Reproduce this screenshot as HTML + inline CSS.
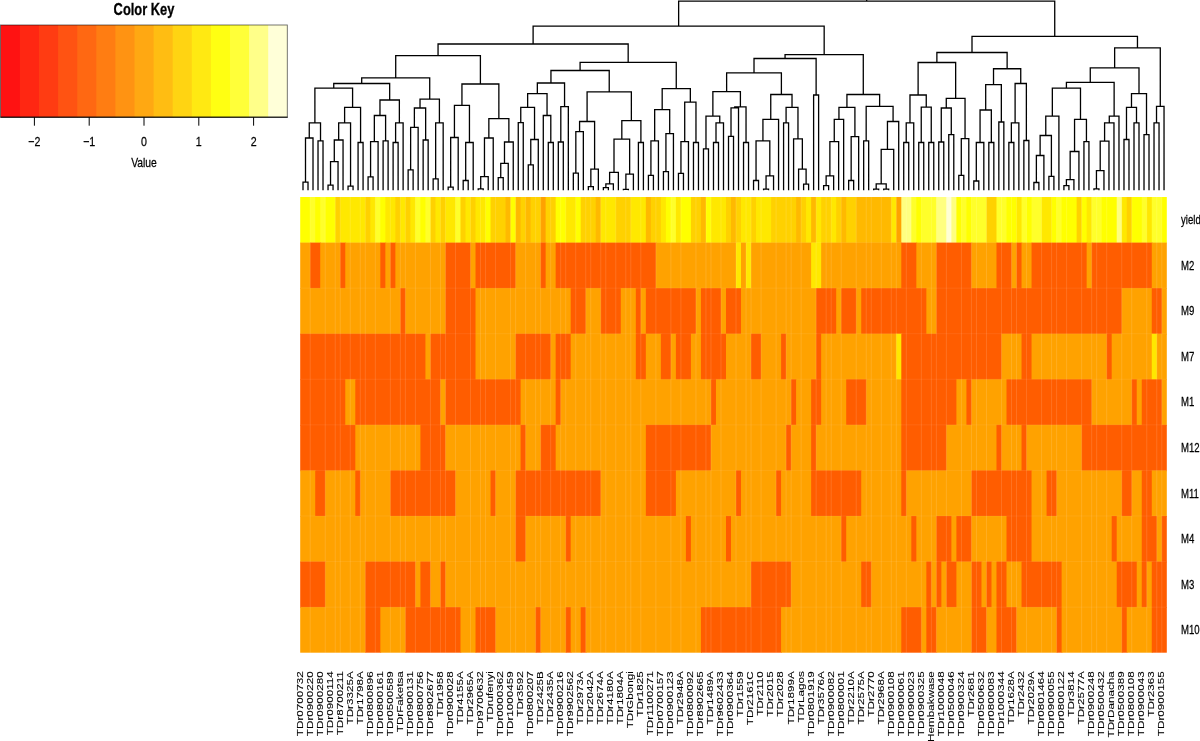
<!DOCTYPE html>
<html><head><meta charset="utf-8"><title>Heatmap</title>
<style>html,body{margin:0;padding:0;background:#fff}body{width:1200px;height:741px;overflow:hidden}</style></head>
<body>
<svg width="1200" height="741" viewBox="0 0 1200 741" style="display:block;font-family:'Liberation Sans',sans-serif">
<rect width="1200" height="741" fill="#fff"/>
<g>
<rect x="300.20" y="197.00" width="10.82" height="46.37" fill="#FFFF00"/>
<rect x="310.22" y="197.00" width="5.81" height="46.37" fill="#FFFF2A"/>
<rect x="315.23" y="197.00" width="5.81" height="46.37" fill="#FFFF00"/>
<rect x="320.24" y="197.00" width="5.81" height="46.37" fill="#FFFF2A"/>
<rect x="325.25" y="197.00" width="10.82" height="46.37" fill="#FFFF00"/>
<rect x="335.26" y="197.00" width="5.81" height="46.37" fill="#FFD100"/>
<rect x="340.27" y="197.00" width="25.85" height="46.37" fill="#FFE800"/>
<rect x="365.32" y="197.00" width="5.81" height="46.37" fill="#FFD100"/>
<rect x="370.33" y="197.00" width="5.81" height="46.37" fill="#FFE800"/>
<rect x="375.34" y="197.00" width="5.81" height="46.37" fill="#FFFF2A"/>
<rect x="380.35" y="197.00" width="5.81" height="46.37" fill="#FFFF00"/>
<rect x="385.36" y="197.00" width="10.82" height="46.37" fill="#FFE800"/>
<rect x="395.38" y="197.00" width="5.81" height="46.37" fill="#FFD100"/>
<rect x="400.38" y="197.00" width="5.81" height="46.37" fill="#FFE800"/>
<rect x="405.39" y="197.00" width="5.81" height="46.37" fill="#FFD100"/>
<rect x="410.40" y="197.00" width="5.81" height="46.37" fill="#FFE800"/>
<rect x="415.41" y="197.00" width="5.81" height="46.37" fill="#FFFF2A"/>
<rect x="420.42" y="197.00" width="5.81" height="46.37" fill="#FFFF00"/>
<rect x="425.43" y="197.00" width="5.81" height="46.37" fill="#FFFF2A"/>
<rect x="430.44" y="197.00" width="5.81" height="46.37" fill="#FFD100"/>
<rect x="435.45" y="197.00" width="5.81" height="46.37" fill="#FFE800"/>
<rect x="440.46" y="197.00" width="5.81" height="46.37" fill="#FFD100"/>
<rect x="445.47" y="197.00" width="10.82" height="46.37" fill="#FFE800"/>
<rect x="455.49" y="197.00" width="5.81" height="46.37" fill="#FFFF2A"/>
<rect x="460.50" y="197.00" width="5.81" height="46.37" fill="#FFD100"/>
<rect x="465.51" y="197.00" width="5.81" height="46.37" fill="#FFE800"/>
<rect x="470.51" y="197.00" width="5.81" height="46.37" fill="#FFD100"/>
<rect x="475.52" y="197.00" width="10.82" height="46.37" fill="#FFE800"/>
<rect x="485.54" y="197.00" width="5.81" height="46.37" fill="#FFFF00"/>
<rect x="490.55" y="197.00" width="15.83" height="46.37" fill="#FFD100"/>
<rect x="505.58" y="197.00" width="5.81" height="46.37" fill="#FFB900"/>
<rect x="510.59" y="197.00" width="5.81" height="46.37" fill="#FFFF00"/>
<rect x="515.60" y="197.00" width="5.81" height="46.37" fill="#FFB900"/>
<rect x="520.61" y="197.00" width="5.81" height="46.37" fill="#FFD100"/>
<rect x="525.62" y="197.00" width="5.81" height="46.37" fill="#FFB900"/>
<rect x="530.63" y="197.00" width="10.82" height="46.37" fill="#FFD100"/>
<rect x="540.64" y="197.00" width="5.81" height="46.37" fill="#FFA200"/>
<rect x="545.65" y="197.00" width="10.82" height="46.37" fill="#FFD100"/>
<rect x="555.67" y="197.00" width="10.82" height="46.37" fill="#FFFF00"/>
<rect x="565.69" y="197.00" width="10.82" height="46.37" fill="#FFE800"/>
<rect x="575.71" y="197.00" width="5.81" height="46.37" fill="#FFFF00"/>
<rect x="580.72" y="197.00" width="15.83" height="46.37" fill="#FFD100"/>
<rect x="595.75" y="197.00" width="5.81" height="46.37" fill="#FFB900"/>
<rect x="600.75" y="197.00" width="15.83" height="46.37" fill="#FFE800"/>
<rect x="615.78" y="197.00" width="15.83" height="46.37" fill="#FFD100"/>
<rect x="630.81" y="197.00" width="15.83" height="46.37" fill="#FFE800"/>
<rect x="645.84" y="197.00" width="5.81" height="46.37" fill="#FFB900"/>
<rect x="650.85" y="197.00" width="10.82" height="46.37" fill="#FFD100"/>
<rect x="660.87" y="197.00" width="5.81" height="46.37" fill="#FFE800"/>
<rect x="665.88" y="197.00" width="5.81" height="46.37" fill="#FFFF00"/>
<rect x="670.88" y="197.00" width="5.81" height="46.37" fill="#FFFF2A"/>
<rect x="675.89" y="197.00" width="5.81" height="46.37" fill="#FFE800"/>
<rect x="680.90" y="197.00" width="10.82" height="46.37" fill="#FFFF00"/>
<rect x="690.92" y="197.00" width="10.82" height="46.37" fill="#FFD100"/>
<rect x="700.94" y="197.00" width="5.81" height="46.37" fill="#FFB900"/>
<rect x="705.95" y="197.00" width="5.81" height="46.37" fill="#FFFF00"/>
<rect x="710.96" y="197.00" width="15.83" height="46.37" fill="#FFE800"/>
<rect x="725.99" y="197.00" width="5.81" height="46.37" fill="#FFD100"/>
<rect x="731.00" y="197.00" width="5.81" height="46.37" fill="#FFB900"/>
<rect x="736.00" y="197.00" width="5.81" height="46.37" fill="#FFD100"/>
<rect x="741.01" y="197.00" width="10.82" height="46.37" fill="#FFE800"/>
<rect x="751.03" y="197.00" width="5.81" height="46.37" fill="#FFD100"/>
<rect x="756.04" y="197.00" width="15.83" height="46.37" fill="#FFE800"/>
<rect x="771.07" y="197.00" width="25.85" height="46.37" fill="#FFD100"/>
<rect x="796.12" y="197.00" width="5.81" height="46.37" fill="#FFB900"/>
<rect x="801.12" y="197.00" width="5.81" height="46.37" fill="#FFD100"/>
<rect x="806.13" y="197.00" width="5.81" height="46.37" fill="#FFE800"/>
<rect x="811.14" y="197.00" width="5.81" height="46.37" fill="#FFB900"/>
<rect x="816.15" y="197.00" width="5.81" height="46.37" fill="#FFE800"/>
<rect x="821.16" y="197.00" width="10.82" height="46.37" fill="#FFD100"/>
<rect x="831.18" y="197.00" width="5.81" height="46.37" fill="#FFE800"/>
<rect x="836.19" y="197.00" width="5.81" height="46.37" fill="#FFD100"/>
<rect x="841.20" y="197.00" width="5.81" height="46.37" fill="#FFB900"/>
<rect x="846.21" y="197.00" width="10.82" height="46.37" fill="#FFD100"/>
<rect x="856.23" y="197.00" width="35.86" height="46.37" fill="#FFB900"/>
<rect x="891.29" y="197.00" width="5.81" height="46.37" fill="#FFE800"/>
<rect x="896.30" y="197.00" width="5.81" height="46.37" fill="#FFA200"/>
<rect x="901.31" y="197.00" width="10.82" height="46.37" fill="#FFFF80"/>
<rect x="911.33" y="197.00" width="5.81" height="46.37" fill="#FFFF2A"/>
<rect x="916.34" y="197.00" width="5.81" height="46.37" fill="#FFFF00"/>
<rect x="921.35" y="197.00" width="15.83" height="46.37" fill="#FFFF2A"/>
<rect x="936.37" y="197.00" width="10.82" height="46.37" fill="#FFFF80"/>
<rect x="946.39" y="197.00" width="5.81" height="46.37" fill="#FFFFD5"/>
<rect x="951.40" y="197.00" width="5.81" height="46.37" fill="#FFFF80"/>
<rect x="956.41" y="197.00" width="5.81" height="46.37" fill="#FFFF00"/>
<rect x="961.42" y="197.00" width="5.81" height="46.37" fill="#FFFF2A"/>
<rect x="966.43" y="197.00" width="5.81" height="46.37" fill="#FFFF00"/>
<rect x="971.44" y="197.00" width="15.83" height="46.37" fill="#FFFF2A"/>
<rect x="986.47" y="197.00" width="10.82" height="46.37" fill="#FFD100"/>
<rect x="996.49" y="197.00" width="10.82" height="46.37" fill="#FFFF2A"/>
<rect x="1006.50" y="197.00" width="10.82" height="46.37" fill="#FFFF00"/>
<rect x="1016.52" y="197.00" width="5.81" height="46.37" fill="#FFE800"/>
<rect x="1021.53" y="197.00" width="5.81" height="46.37" fill="#FFFF2A"/>
<rect x="1026.54" y="197.00" width="5.81" height="46.37" fill="#FFFF00"/>
<rect x="1031.55" y="197.00" width="10.82" height="46.37" fill="#FFFF2A"/>
<rect x="1041.57" y="197.00" width="10.82" height="46.37" fill="#FFE800"/>
<rect x="1051.59" y="197.00" width="5.81" height="46.37" fill="#FFFF00"/>
<rect x="1056.60" y="197.00" width="5.81" height="46.37" fill="#FFFF2A"/>
<rect x="1061.61" y="197.00" width="15.83" height="46.37" fill="#FFFF00"/>
<rect x="1076.63" y="197.00" width="5.81" height="46.37" fill="#FFD100"/>
<rect x="1081.64" y="197.00" width="5.81" height="46.37" fill="#FFFF00"/>
<rect x="1086.65" y="197.00" width="5.81" height="46.37" fill="#FFE800"/>
<rect x="1091.66" y="197.00" width="10.82" height="46.37" fill="#FFFF2A"/>
<rect x="1101.68" y="197.00" width="15.83" height="46.37" fill="#FFFF00"/>
<rect x="1116.71" y="197.00" width="5.81" height="46.37" fill="#FFFF80"/>
<rect x="1121.72" y="197.00" width="5.81" height="46.37" fill="#FFE800"/>
<rect x="1126.73" y="197.00" width="5.81" height="46.37" fill="#FFD100"/>
<rect x="1131.74" y="197.00" width="10.82" height="46.37" fill="#FFFF00"/>
<rect x="1141.75" y="197.00" width="5.81" height="46.37" fill="#FFFF2A"/>
<rect x="1146.76" y="197.00" width="5.81" height="46.37" fill="#FFE800"/>
<rect x="1151.77" y="197.00" width="10.82" height="46.37" fill="#FFFF2A"/>
<rect x="1161.79" y="197.00" width="5.01" height="46.37" fill="#FFFF00"/>
<rect x="300.20" y="242.57" width="10.82" height="46.37" fill="#FFA200"/>
<rect x="310.22" y="242.57" width="10.82" height="46.37" fill="#FF5D00"/>
<rect x="320.24" y="242.57" width="20.84" height="46.37" fill="#FFA200"/>
<rect x="340.27" y="242.57" width="5.81" height="46.37" fill="#FF5D00"/>
<rect x="345.28" y="242.57" width="35.86" height="46.37" fill="#FFA200"/>
<rect x="380.35" y="242.57" width="5.81" height="46.37" fill="#FF5D00"/>
<rect x="385.36" y="242.57" width="5.81" height="46.37" fill="#FFA200"/>
<rect x="390.37" y="242.57" width="5.81" height="46.37" fill="#FF5D00"/>
<rect x="395.38" y="242.57" width="50.89" height="46.37" fill="#FFA200"/>
<rect x="445.47" y="242.57" width="25.85" height="46.37" fill="#FF5D00"/>
<rect x="470.51" y="242.57" width="5.81" height="46.37" fill="#FFA200"/>
<rect x="475.52" y="242.57" width="40.87" height="46.37" fill="#FF5D00"/>
<rect x="515.60" y="242.57" width="25.85" height="46.37" fill="#FFA200"/>
<rect x="540.64" y="242.57" width="5.81" height="46.37" fill="#FF5D00"/>
<rect x="545.65" y="242.57" width="10.82" height="46.37" fill="#FFA200"/>
<rect x="555.67" y="242.57" width="100.98" height="46.37" fill="#FF5D00"/>
<rect x="655.86" y="242.57" width="80.95" height="46.37" fill="#FFA200"/>
<rect x="736.00" y="242.57" width="5.81" height="46.37" fill="#FFE800"/>
<rect x="741.01" y="242.57" width="5.81" height="46.37" fill="#FFA200"/>
<rect x="746.02" y="242.57" width="5.81" height="46.37" fill="#FFE800"/>
<rect x="751.03" y="242.57" width="60.91" height="46.37" fill="#FFA200"/>
<rect x="811.14" y="242.57" width="10.82" height="46.37" fill="#FFE800"/>
<rect x="821.16" y="242.57" width="80.95" height="46.37" fill="#FFA200"/>
<rect x="901.31" y="242.57" width="15.83" height="46.37" fill="#FF5D00"/>
<rect x="916.34" y="242.57" width="20.84" height="46.37" fill="#FFA200"/>
<rect x="936.37" y="242.57" width="35.86" height="46.37" fill="#FF5D00"/>
<rect x="971.44" y="242.57" width="25.85" height="46.37" fill="#FFA200"/>
<rect x="996.49" y="242.57" width="15.83" height="46.37" fill="#FF5D00"/>
<rect x="1011.51" y="242.57" width="5.81" height="46.37" fill="#FFA200"/>
<rect x="1016.52" y="242.57" width="5.81" height="46.37" fill="#FF5D00"/>
<rect x="1021.53" y="242.57" width="10.82" height="46.37" fill="#FFA200"/>
<rect x="1031.55" y="242.57" width="55.90" height="46.37" fill="#FF5D00"/>
<rect x="1086.65" y="242.57" width="5.81" height="46.37" fill="#FFA200"/>
<rect x="1091.66" y="242.57" width="60.91" height="46.37" fill="#FF5D00"/>
<rect x="1151.77" y="242.57" width="15.03" height="46.37" fill="#FFA200"/>
<rect x="300.20" y="288.14" width="100.98" height="46.37" fill="#FFA200"/>
<rect x="400.38" y="288.14" width="5.81" height="46.37" fill="#FF5D00"/>
<rect x="405.39" y="288.14" width="40.87" height="46.37" fill="#FFA200"/>
<rect x="445.47" y="288.14" width="30.86" height="46.37" fill="#FF5D00"/>
<rect x="475.52" y="288.14" width="95.98" height="46.37" fill="#FFA200"/>
<rect x="570.70" y="288.14" width="15.83" height="46.37" fill="#FF5D00"/>
<rect x="585.73" y="288.14" width="15.83" height="46.37" fill="#FFA200"/>
<rect x="600.75" y="288.14" width="20.84" height="46.37" fill="#FF5D00"/>
<rect x="620.79" y="288.14" width="15.83" height="46.37" fill="#FFA200"/>
<rect x="635.82" y="288.14" width="5.81" height="46.37" fill="#FF5D00"/>
<rect x="640.83" y="288.14" width="5.81" height="46.37" fill="#FFA200"/>
<rect x="645.84" y="288.14" width="50.89" height="46.37" fill="#FF5D00"/>
<rect x="695.93" y="288.14" width="5.81" height="46.37" fill="#FFA200"/>
<rect x="700.94" y="288.14" width="20.84" height="46.37" fill="#FF5D00"/>
<rect x="720.98" y="288.14" width="5.81" height="46.37" fill="#FFA200"/>
<rect x="725.99" y="288.14" width="15.83" height="46.37" fill="#FF5D00"/>
<rect x="741.01" y="288.14" width="75.94" height="46.37" fill="#FFA200"/>
<rect x="816.15" y="288.14" width="20.84" height="46.37" fill="#FF5D00"/>
<rect x="836.19" y="288.14" width="5.81" height="46.37" fill="#FFA200"/>
<rect x="841.20" y="288.14" width="15.83" height="46.37" fill="#FF5D00"/>
<rect x="856.23" y="288.14" width="5.81" height="46.37" fill="#FFA200"/>
<rect x="861.24" y="288.14" width="65.92" height="46.37" fill="#FF5D00"/>
<rect x="926.36" y="288.14" width="10.82" height="46.37" fill="#FFA200"/>
<rect x="936.37" y="288.14" width="186.14" height="46.37" fill="#FF5D00"/>
<rect x="1121.72" y="288.14" width="30.86" height="46.37" fill="#FFA200"/>
<rect x="1151.77" y="288.14" width="10.82" height="46.37" fill="#FF5D00"/>
<rect x="1161.79" y="288.14" width="5.01" height="46.37" fill="#FFA200"/>
<rect x="300.20" y="333.71" width="126.03" height="46.37" fill="#FF5D00"/>
<rect x="425.43" y="333.71" width="5.81" height="46.37" fill="#FFA200"/>
<rect x="430.44" y="333.71" width="45.88" height="46.37" fill="#FF5D00"/>
<rect x="475.52" y="333.71" width="40.87" height="46.37" fill="#FFA200"/>
<rect x="515.60" y="333.71" width="35.86" height="46.37" fill="#FF5D00"/>
<rect x="550.66" y="333.71" width="5.81" height="46.37" fill="#FFA200"/>
<rect x="555.67" y="333.71" width="15.83" height="46.37" fill="#FF5D00"/>
<rect x="570.70" y="333.71" width="65.92" height="46.37" fill="#FFA200"/>
<rect x="635.82" y="333.71" width="10.82" height="46.37" fill="#FF5D00"/>
<rect x="645.84" y="333.71" width="15.83" height="46.37" fill="#FFA200"/>
<rect x="660.87" y="333.71" width="10.82" height="46.37" fill="#FF5D00"/>
<rect x="670.88" y="333.71" width="5.81" height="46.37" fill="#FFA200"/>
<rect x="675.89" y="333.71" width="15.83" height="46.37" fill="#FF5D00"/>
<rect x="690.92" y="333.71" width="10.82" height="46.37" fill="#FFA200"/>
<rect x="700.94" y="333.71" width="25.85" height="46.37" fill="#FF5D00"/>
<rect x="725.99" y="333.71" width="25.85" height="46.37" fill="#FFA200"/>
<rect x="751.03" y="333.71" width="10.82" height="46.37" fill="#FF5D00"/>
<rect x="761.05" y="333.71" width="20.84" height="46.37" fill="#FFA200"/>
<rect x="781.09" y="333.71" width="5.81" height="46.37" fill="#FF5D00"/>
<rect x="786.10" y="333.71" width="30.86" height="46.37" fill="#FFA200"/>
<rect x="816.15" y="333.71" width="5.81" height="46.37" fill="#FF5D00"/>
<rect x="821.16" y="333.71" width="75.94" height="46.37" fill="#FFA200"/>
<rect x="896.30" y="333.71" width="5.81" height="46.37" fill="#FFE800"/>
<rect x="901.31" y="333.71" width="100.98" height="46.37" fill="#FF5D00"/>
<rect x="1001.49" y="333.71" width="20.84" height="46.37" fill="#FFA200"/>
<rect x="1021.53" y="333.71" width="10.82" height="46.37" fill="#FF5D00"/>
<rect x="1031.55" y="333.71" width="75.94" height="46.37" fill="#FFA200"/>
<rect x="1106.69" y="333.71" width="5.81" height="46.37" fill="#FF5D00"/>
<rect x="1111.70" y="333.71" width="40.87" height="46.37" fill="#FFA200"/>
<rect x="1151.77" y="333.71" width="5.81" height="46.37" fill="#FFE800"/>
<rect x="1156.78" y="333.71" width="10.02" height="46.37" fill="#FFA200"/>
<rect x="300.20" y="379.28" width="45.88" height="46.37" fill="#FF5D00"/>
<rect x="345.28" y="379.28" width="10.82" height="46.37" fill="#FFA200"/>
<rect x="355.30" y="379.28" width="85.96" height="46.37" fill="#FF5D00"/>
<rect x="440.46" y="379.28" width="5.81" height="46.37" fill="#FFA200"/>
<rect x="445.47" y="379.28" width="75.94" height="46.37" fill="#FF5D00"/>
<rect x="520.61" y="379.28" width="35.86" height="46.37" fill="#FFA200"/>
<rect x="555.67" y="379.28" width="5.81" height="46.37" fill="#FF5D00"/>
<rect x="560.68" y="379.28" width="151.08" height="46.37" fill="#FFA200"/>
<rect x="710.96" y="379.28" width="5.81" height="46.37" fill="#FF5D00"/>
<rect x="715.97" y="379.28" width="75.94" height="46.37" fill="#FFA200"/>
<rect x="791.11" y="379.28" width="5.81" height="46.37" fill="#FF5D00"/>
<rect x="796.12" y="379.28" width="15.83" height="46.37" fill="#FFA200"/>
<rect x="811.14" y="379.28" width="10.82" height="46.37" fill="#FF5D00"/>
<rect x="821.16" y="379.28" width="25.85" height="46.37" fill="#FFA200"/>
<rect x="846.21" y="379.28" width="20.84" height="46.37" fill="#FF5D00"/>
<rect x="866.25" y="379.28" width="35.86" height="46.37" fill="#FFA200"/>
<rect x="901.31" y="379.28" width="55.90" height="46.37" fill="#FF5D00"/>
<rect x="956.41" y="379.28" width="10.82" height="46.37" fill="#FFA200"/>
<rect x="966.43" y="379.28" width="5.81" height="46.37" fill="#FF5D00"/>
<rect x="971.44" y="379.28" width="35.86" height="46.37" fill="#FFA200"/>
<rect x="1006.50" y="379.28" width="85.96" height="46.37" fill="#FF5D00"/>
<rect x="1091.66" y="379.28" width="40.87" height="46.37" fill="#FFA200"/>
<rect x="1131.74" y="379.28" width="5.81" height="46.37" fill="#FF5D00"/>
<rect x="1136.74" y="379.28" width="5.81" height="46.37" fill="#FFA200"/>
<rect x="1141.75" y="379.28" width="20.84" height="46.37" fill="#FF5D00"/>
<rect x="1161.79" y="379.28" width="5.01" height="46.37" fill="#FFA200"/>
<rect x="300.20" y="424.85" width="55.90" height="46.37" fill="#FF5D00"/>
<rect x="355.30" y="424.85" width="65.92" height="46.37" fill="#FFA200"/>
<rect x="420.42" y="424.85" width="25.85" height="46.37" fill="#FF5D00"/>
<rect x="445.47" y="424.85" width="75.94" height="46.37" fill="#FFA200"/>
<rect x="520.61" y="424.85" width="5.81" height="46.37" fill="#FF5D00"/>
<rect x="525.62" y="424.85" width="15.83" height="46.37" fill="#FFA200"/>
<rect x="540.64" y="424.85" width="15.83" height="46.37" fill="#FF5D00"/>
<rect x="555.67" y="424.85" width="90.97" height="46.37" fill="#FFA200"/>
<rect x="645.84" y="424.85" width="65.92" height="46.37" fill="#FF5D00"/>
<rect x="710.96" y="424.85" width="75.94" height="46.37" fill="#FFA200"/>
<rect x="786.10" y="424.85" width="5.81" height="46.37" fill="#FF5D00"/>
<rect x="791.11" y="424.85" width="20.84" height="46.37" fill="#FFA200"/>
<rect x="811.14" y="424.85" width="5.81" height="46.37" fill="#FF5D00"/>
<rect x="816.15" y="424.85" width="85.96" height="46.37" fill="#FFA200"/>
<rect x="901.31" y="424.85" width="45.88" height="46.37" fill="#FF5D00"/>
<rect x="946.39" y="424.85" width="50.89" height="46.37" fill="#FFA200"/>
<rect x="996.49" y="424.85" width="5.81" height="46.37" fill="#FF5D00"/>
<rect x="1001.49" y="424.85" width="20.84" height="46.37" fill="#FFA200"/>
<rect x="1021.53" y="424.85" width="5.81" height="46.37" fill="#FF5D00"/>
<rect x="1026.54" y="424.85" width="55.90" height="46.37" fill="#FFA200"/>
<rect x="1081.64" y="424.85" width="85.16" height="46.37" fill="#FF5D00"/>
<rect x="300.20" y="470.42" width="15.83" height="46.37" fill="#FFA200"/>
<rect x="315.23" y="470.42" width="10.82" height="46.37" fill="#FF5D00"/>
<rect x="325.25" y="470.42" width="30.86" height="46.37" fill="#FFA200"/>
<rect x="355.30" y="470.42" width="5.81" height="46.37" fill="#FF5D00"/>
<rect x="360.31" y="470.42" width="30.86" height="46.37" fill="#FFA200"/>
<rect x="390.37" y="470.42" width="65.92" height="46.37" fill="#FF5D00"/>
<rect x="455.49" y="470.42" width="35.86" height="46.37" fill="#FFA200"/>
<rect x="490.55" y="470.42" width="5.81" height="46.37" fill="#FF5D00"/>
<rect x="495.56" y="470.42" width="20.84" height="46.37" fill="#FFA200"/>
<rect x="515.60" y="470.42" width="85.96" height="46.37" fill="#FF5D00"/>
<rect x="600.75" y="470.42" width="45.88" height="46.37" fill="#FFA200"/>
<rect x="645.84" y="470.42" width="30.86" height="46.37" fill="#FF5D00"/>
<rect x="675.89" y="470.42" width="60.91" height="46.37" fill="#FFA200"/>
<rect x="736.00" y="470.42" width="5.81" height="46.37" fill="#FF5D00"/>
<rect x="741.01" y="470.42" width="35.86" height="46.37" fill="#FFA200"/>
<rect x="776.08" y="470.42" width="5.81" height="46.37" fill="#FF5D00"/>
<rect x="781.09" y="470.42" width="30.86" height="46.37" fill="#FFA200"/>
<rect x="811.14" y="470.42" width="50.89" height="46.37" fill="#FF5D00"/>
<rect x="861.24" y="470.42" width="40.87" height="46.37" fill="#FFA200"/>
<rect x="901.31" y="470.42" width="5.81" height="46.37" fill="#FF5D00"/>
<rect x="906.32" y="470.42" width="65.92" height="46.37" fill="#FFA200"/>
<rect x="971.44" y="470.42" width="60.91" height="46.37" fill="#FF5D00"/>
<rect x="1031.55" y="470.42" width="15.83" height="46.37" fill="#FFA200"/>
<rect x="1046.58" y="470.42" width="10.82" height="46.37" fill="#FF5D00"/>
<rect x="1056.60" y="470.42" width="65.92" height="46.37" fill="#FFA200"/>
<rect x="1121.72" y="470.42" width="10.82" height="46.37" fill="#FF5D00"/>
<rect x="1131.74" y="470.42" width="10.82" height="46.37" fill="#FFA200"/>
<rect x="1141.75" y="470.42" width="10.82" height="46.37" fill="#FF5D00"/>
<rect x="1151.77" y="470.42" width="15.03" height="46.37" fill="#FFA200"/>
<rect x="300.20" y="515.99" width="216.20" height="46.37" fill="#FFA200"/>
<rect x="515.60" y="515.99" width="10.82" height="46.37" fill="#FF5D00"/>
<rect x="525.62" y="515.99" width="40.87" height="46.37" fill="#FFA200"/>
<rect x="565.69" y="515.99" width="5.81" height="46.37" fill="#FF5D00"/>
<rect x="570.70" y="515.99" width="116.01" height="46.37" fill="#FFA200"/>
<rect x="685.91" y="515.99" width="5.81" height="46.37" fill="#FF5D00"/>
<rect x="690.92" y="515.99" width="35.86" height="46.37" fill="#FFA200"/>
<rect x="725.99" y="515.99" width="5.81" height="46.37" fill="#FF5D00"/>
<rect x="731.00" y="515.99" width="111.00" height="46.37" fill="#FFA200"/>
<rect x="841.20" y="515.99" width="5.81" height="46.37" fill="#FF5D00"/>
<rect x="846.21" y="515.99" width="65.92" height="46.37" fill="#FFA200"/>
<rect x="911.33" y="515.99" width="5.81" height="46.37" fill="#FF5D00"/>
<rect x="916.34" y="515.99" width="20.84" height="46.37" fill="#FFA200"/>
<rect x="936.37" y="515.99" width="15.83" height="46.37" fill="#FF5D00"/>
<rect x="951.40" y="515.99" width="5.81" height="46.37" fill="#FFA200"/>
<rect x="956.41" y="515.99" width="15.83" height="46.37" fill="#FF5D00"/>
<rect x="971.44" y="515.99" width="35.86" height="46.37" fill="#FFA200"/>
<rect x="1006.50" y="515.99" width="25.85" height="46.37" fill="#FF5D00"/>
<rect x="1031.55" y="515.99" width="80.95" height="46.37" fill="#FFA200"/>
<rect x="1111.70" y="515.99" width="5.81" height="46.37" fill="#FF5D00"/>
<rect x="1116.71" y="515.99" width="25.85" height="46.37" fill="#FFA200"/>
<rect x="1141.75" y="515.99" width="15.83" height="46.37" fill="#FF5D00"/>
<rect x="1156.78" y="515.99" width="5.81" height="46.37" fill="#FFA200"/>
<rect x="1161.79" y="515.99" width="5.01" height="46.37" fill="#FF5D00"/>
<rect x="300.20" y="561.56" width="25.85" height="46.37" fill="#FF5D00"/>
<rect x="325.25" y="561.56" width="40.87" height="46.37" fill="#FFA200"/>
<rect x="365.32" y="561.56" width="50.89" height="46.37" fill="#FF5D00"/>
<rect x="415.41" y="561.56" width="5.81" height="46.37" fill="#FFA200"/>
<rect x="420.42" y="561.56" width="10.82" height="46.37" fill="#FF5D00"/>
<rect x="430.44" y="561.56" width="10.82" height="46.37" fill="#FFA200"/>
<rect x="440.46" y="561.56" width="5.81" height="46.37" fill="#FF5D00"/>
<rect x="445.47" y="561.56" width="306.36" height="46.37" fill="#FFA200"/>
<rect x="751.03" y="561.56" width="40.87" height="46.37" fill="#FF5D00"/>
<rect x="791.11" y="561.56" width="70.93" height="46.37" fill="#FFA200"/>
<rect x="861.24" y="561.56" width="10.82" height="46.37" fill="#FF5D00"/>
<rect x="871.25" y="561.56" width="55.90" height="46.37" fill="#FFA200"/>
<rect x="926.36" y="561.56" width="5.81" height="46.37" fill="#FF5D00"/>
<rect x="931.37" y="561.56" width="5.81" height="46.37" fill="#FFA200"/>
<rect x="936.37" y="561.56" width="5.81" height="46.37" fill="#FF5D00"/>
<rect x="941.38" y="561.56" width="5.81" height="46.37" fill="#FFA200"/>
<rect x="946.39" y="561.56" width="10.82" height="46.37" fill="#FF5D00"/>
<rect x="956.41" y="561.56" width="15.83" height="46.37" fill="#FFA200"/>
<rect x="971.44" y="561.56" width="10.82" height="46.37" fill="#FF5D00"/>
<rect x="981.46" y="561.56" width="5.81" height="46.37" fill="#FFA200"/>
<rect x="986.47" y="561.56" width="5.81" height="46.37" fill="#FF5D00"/>
<rect x="991.48" y="561.56" width="5.81" height="46.37" fill="#FFA200"/>
<rect x="996.49" y="561.56" width="10.82" height="46.37" fill="#FF5D00"/>
<rect x="1006.50" y="561.56" width="15.83" height="46.37" fill="#FFA200"/>
<rect x="1021.53" y="561.56" width="40.87" height="46.37" fill="#FF5D00"/>
<rect x="1061.61" y="561.56" width="55.90" height="46.37" fill="#FFA200"/>
<rect x="1116.71" y="561.56" width="20.84" height="46.37" fill="#FF5D00"/>
<rect x="1136.74" y="561.56" width="5.81" height="46.37" fill="#FFA200"/>
<rect x="1141.75" y="561.56" width="5.81" height="46.37" fill="#FF5D00"/>
<rect x="1146.76" y="561.56" width="5.81" height="46.37" fill="#FFA200"/>
<rect x="1151.77" y="561.56" width="15.03" height="46.37" fill="#FF5D00"/>
<rect x="300.20" y="607.13" width="65.92" height="45.57" fill="#FFA200"/>
<rect x="365.32" y="607.13" width="15.83" height="45.57" fill="#FF5D00"/>
<rect x="380.35" y="607.13" width="25.85" height="45.57" fill="#FFA200"/>
<rect x="405.39" y="607.13" width="55.90" height="45.57" fill="#FF5D00"/>
<rect x="460.50" y="607.13" width="15.83" height="45.57" fill="#FFA200"/>
<rect x="475.52" y="607.13" width="20.84" height="45.57" fill="#FF5D00"/>
<rect x="495.56" y="607.13" width="40.87" height="45.57" fill="#FFA200"/>
<rect x="535.63" y="607.13" width="5.81" height="45.57" fill="#FF5D00"/>
<rect x="540.64" y="607.13" width="25.85" height="45.57" fill="#FFA200"/>
<rect x="565.69" y="607.13" width="5.81" height="45.57" fill="#FF5D00"/>
<rect x="570.70" y="607.13" width="10.82" height="45.57" fill="#FFA200"/>
<rect x="580.72" y="607.13" width="5.81" height="45.57" fill="#FF5D00"/>
<rect x="585.73" y="607.13" width="116.01" height="45.57" fill="#FFA200"/>
<rect x="700.94" y="607.13" width="80.95" height="45.57" fill="#FF5D00"/>
<rect x="781.09" y="607.13" width="121.02" height="45.57" fill="#FFA200"/>
<rect x="901.31" y="607.13" width="20.84" height="45.57" fill="#FF5D00"/>
<rect x="921.35" y="607.13" width="5.81" height="45.57" fill="#FFA200"/>
<rect x="926.36" y="607.13" width="10.82" height="45.57" fill="#FF5D00"/>
<rect x="936.37" y="607.13" width="35.86" height="45.57" fill="#FFA200"/>
<rect x="971.44" y="607.13" width="15.83" height="45.57" fill="#FF5D00"/>
<rect x="986.47" y="607.13" width="10.82" height="45.57" fill="#FFA200"/>
<rect x="996.49" y="607.13" width="20.84" height="45.57" fill="#FF5D00"/>
<rect x="1016.52" y="607.13" width="40.87" height="45.57" fill="#FFA200"/>
<rect x="1056.60" y="607.13" width="5.81" height="45.57" fill="#FF5D00"/>
<rect x="1061.61" y="607.13" width="60.91" height="45.57" fill="#FFA200"/>
<rect x="1121.72" y="607.13" width="5.81" height="45.57" fill="#FF5D00"/>
<rect x="1126.73" y="607.13" width="25.85" height="45.57" fill="#FFA200"/>
<rect x="1151.77" y="607.13" width="15.03" height="45.57" fill="#FF5D00"/>
</g>
<path d="M310.22 197.00V652.70M325.25 197.00V652.70M335.26 197.00V652.70M340.27 197.00V652.70M350.29 197.00V652.70M360.31 197.00V652.70M365.32 197.00V652.70M375.34 197.00V652.70M390.37 197.00V652.70M400.38 197.00V652.70M405.39 197.00V652.70M415.41 197.00V652.70M430.44 197.00V652.70M440.46 197.00V652.70M445.47 197.00V652.70M455.49 197.00V652.70M470.51 197.00V652.70M480.53 197.00V652.70M485.54 197.00V652.70M495.56 197.00V652.70M510.59 197.00V652.70M515.60 197.00V652.70M525.62 197.00V652.70M535.63 197.00V652.70M540.64 197.00V652.70M550.66 197.00V652.70M560.68 197.00V652.70M565.69 197.00V652.70M575.71 197.00V652.70M585.73 197.00V652.70M590.74 197.00V652.70M600.75 197.00V652.70M605.76 197.00V652.70M615.78 197.00V652.70M625.80 197.00V652.70M630.81 197.00V652.70M640.83 197.00V652.70M655.86 197.00V652.70M670.88 197.00V652.70M680.90 197.00V652.70M695.93 197.00V652.70M705.95 197.00V652.70M710.96 197.00V652.70M720.98 197.00V652.70M736.00 197.00V652.70M746.02 197.00V652.70M751.03 197.00V652.70M761.05 197.00V652.70M776.08 197.00V652.70M786.10 197.00V652.70M791.11 197.00V652.70M801.12 197.00V652.70M816.15 197.00V652.70M826.17 197.00V652.70M831.18 197.00V652.70M841.20 197.00V652.70M856.23 197.00V652.70M866.25 197.00V652.70M871.25 197.00V652.70M881.27 197.00V652.70M891.29 197.00V652.70M896.30 197.00V652.70M906.32 197.00V652.70M921.35 197.00V652.70M931.37 197.00V652.70M936.37 197.00V652.70M946.39 197.00V652.70M961.42 197.00V652.70M971.44 197.00V652.70M976.45 197.00V652.70M986.47 197.00V652.70M1001.49 197.00V652.70M1011.51 197.00V652.70M1016.52 197.00V652.70M1026.54 197.00V652.70M1041.57 197.00V652.70M1051.59 197.00V652.70M1056.60 197.00V652.70M1066.62 197.00V652.70M1081.64 197.00V652.70M1091.66 197.00V652.70M1096.67 197.00V652.70M1106.69 197.00V652.70M1121.72 197.00V652.70M1131.74 197.00V652.70M1146.76 197.00V652.70M1156.78 197.00V652.70M1161.79 197.00V652.70" stroke="#fff" stroke-opacity="0.22" stroke-width="0.6" fill="none"/>
<path d="M300.20 242.57H1166.80M300.20 288.14H1166.80M300.20 333.71H1166.80M300.20 379.28H1166.80M300.20 424.85H1166.80M300.20 470.42H1166.80M300.20 515.99H1166.80M300.20 561.56H1166.80M300.20 607.13H1166.80" stroke="#fff" stroke-opacity="0.12" stroke-width="0.6" fill="none"/>
<path d="M303.00 190.30V182.20H308.01V190.30M305.50 182.20V138.00H313.01V190.30M318.02 190.30V140.90H323.02V190.30M309.26 138.00V122.80H320.52V140.90M328.03 190.30V185.20H333.04V190.30M330.53 185.20V161.60H338.04V190.30M334.29 161.60V140.00H343.05V190.30M348.05 190.30V186.10H353.06V190.30M338.67 140.00V122.80H350.56V186.10M358.07 190.30V142.50H363.07V190.30M344.61 122.80V107.40H360.57V142.50M314.89 122.80V88.20H352.59V107.40M368.08 190.30V176.80H373.08V190.30M370.58 176.80V141.70H378.09V190.30M383.10 190.30V140.90H388.10V190.30M374.34 141.70V115.50H385.60V140.90M393.11 190.30V142.50H398.11V190.30M395.61 142.50V122.80H403.12V190.30M379.97 115.50V100.00H399.37V122.80M333.74 88.20V83.50H389.67V100.00M408.13 190.30V169.90H413.13V190.30M410.63 169.90V127.40H418.14V190.30M423.14 190.30V140.00H428.15V190.30M414.38 127.40V108.00H425.65V140.00M433.16 190.30V178.80H438.16V190.30M435.66 178.80V122.80H443.17V190.30M420.02 108.00V99.20H439.41V122.80M361.70 83.50V77.90H429.71V99.20M448.17 190.30V187.20H453.18V190.30M450.68 187.20V137.50H458.19V190.30M463.19 190.30V180.50H468.20V190.30M465.69 180.50V142.50H473.20V190.30M454.43 137.50V105.40H469.45V142.50M478.21 190.30V188.90H483.22V190.30M480.71 188.90V176.60H488.22V190.30M484.47 176.60V138.00H493.23V190.30M498.23 190.30V177.60H503.24V190.30M500.74 177.60V163.30H508.25V190.30M504.49 163.30V142.00H513.25V190.30M488.85 138.00V118.60H508.87V142.00M461.94 105.40V84.00H498.86V118.60M395.71 77.90V55.70H480.40V84.00M518.26 190.30V122.60H523.26V190.30M528.27 190.30V164.80H533.28V190.30M530.77 164.80V139.50H538.28V190.30M520.76 122.60V107.40H534.53V139.50M548.29 190.30V142.50H553.30V190.30M543.29 190.30V115.50H550.80V142.50M527.64 107.40V93.60H547.04V115.50M558.31 190.30V142.00H563.31V190.30M560.81 142.00V106.60H568.32V190.30M537.34 93.60V83.00H564.56V106.60M573.32 190.30V173.20H578.33V190.30M575.83 173.20V131.60H583.34V190.30M588.34 190.30V186.70H593.35V190.30M590.85 186.70V169.20H598.35V190.30M579.58 131.60V121.50H594.60V169.20M603.36 190.30V187.60H608.37V190.30M605.86 187.60V183.90H613.37V190.30M609.62 183.90V172.40H618.38V190.30M623.38 190.30V189.40H628.39V190.30M625.89 189.40V174.10H633.40V190.30M614.00 172.40V139.20H629.64V174.10M638.40 190.30V142.50H643.41V190.30M621.82 139.20V120.60H640.90V142.50M587.09 121.50V91.90H631.36V120.60M550.95 83.00V70.50H609.23V91.90M648.41 190.30V175.40H653.42V190.30M650.92 175.40V140.90H658.43V190.30M663.43 190.30V171.60H668.44V190.30M665.93 171.60V133.60H673.44V190.30M654.67 140.90V109.60H669.69V133.60M678.45 190.30V173.40H683.46V190.30M680.95 173.40V141.70H688.46V190.30M693.47 190.30V142.50H698.47V190.30M684.71 141.70V102.10H695.97V142.50M662.18 109.60V88.60H690.34V102.10M580.09 70.50V62.30H676.26V88.60M438.05 55.70V44.00H628.17V62.30M703.48 190.30V148.90H708.49V190.30M713.49 190.30V142.50H718.50V190.30M716.00 142.50V122.80H723.50V190.30M705.98 148.90V116.10H719.75V122.80M728.51 190.30V136.30H733.52V190.30M731.01 136.30V107.80H738.52V190.30M743.53 190.30V142.50H748.53V190.30M734.77 107.80V106.80H746.03V142.50M712.87 116.10V91.60H740.40V106.80M753.54 190.30V180.50H758.55V190.30M763.55 190.30V189.10H768.56V190.30M766.06 189.10V175.80H773.56V190.30M756.04 180.50V140.90H769.81V175.80M762.93 140.90V119.40H778.57V190.30M783.58 190.30V122.80H788.58V190.30M803.60 190.30V184.20H808.61V190.30M798.59 190.30V169.20H806.10V184.20M793.59 190.30V138.80H802.35V169.20M786.08 122.80V107.40H797.97V138.80M770.75 119.40V94.50H792.02V107.40M726.63 91.60V72.90H781.39V94.50M813.61 190.30V95.00H818.62V190.30M754.01 72.90V58.50H816.12V95.00M823.62 190.30V185.60H828.63V190.30M826.13 185.60V175.80H833.64V190.30M829.88 175.80V141.70H838.64V190.30M834.26 141.70V119.30H843.65V190.30M848.65 190.30V180.50H853.66V190.30M851.16 180.50V136.60H858.67V190.30M838.95 119.30V107.40H854.91V136.60M863.67 190.30V140.90H868.68V190.30M873.68 190.30V189.10H878.69V190.30M883.70 190.30V189.10H888.70V190.30M876.19 189.10V183.90H886.20V189.10M881.19 183.90V149.30H893.71V190.30M887.45 149.30V121.50H898.71V190.30M866.17 140.90V106.30H893.08V121.50M846.93 107.40V94.50H879.63V106.30M785.06 58.50V54.60H863.28V94.50M533.11 44.00V26.20H824.17V54.60M903.72 190.30V142.50H908.73V190.30M906.22 142.50V122.80H913.73V190.30M918.74 190.30V142.50H923.74V190.30M928.75 190.30V142.50H933.76V190.30M921.24 142.50V107.10H931.25V142.50M909.98 122.80V95.00H926.25V107.10M938.76 190.30V142.00H943.77V190.30M948.77 190.30V134.60H953.78V190.30M941.27 142.00V108.00H951.28V134.60M958.79 190.30V175.40H963.79V190.30M961.29 175.40V138.70H968.80V190.30M946.27 108.00V98.30H965.04V138.70M918.11 95.00V62.50H955.66V98.30M973.80 190.30V181.00H978.81V190.30M976.31 181.00V142.50H983.82V190.30M988.82 190.30V142.50H993.83V190.30M980.06 142.50V110.00H991.33V142.50M998.83 190.30V122.00H1003.84V190.30M985.69 110.00V84.70H1001.34V122.00M1008.85 190.30V142.50H1013.85V190.30M1011.35 142.50V122.80H1018.86V190.30M1023.86 190.30V140.50H1028.87V190.30M1015.10 122.80V83.50H1026.37V140.50M993.52 84.70V68.75H1020.74V83.50M936.88 62.50V52.50H1007.13V68.75M1033.88 190.30V182.50H1038.88V190.30M1036.38 182.50V155.50H1043.89V190.30M1048.89 190.30V176.30H1053.90V190.30M1040.13 155.50V135.50H1051.40V176.30M1045.77 135.50V116.10H1058.91V190.30M1063.91 190.30V185.60H1068.92V190.30M1066.41 185.60V179.60H1073.92V190.30M1070.17 179.60V151.50H1078.93V190.30M1083.94 190.30V141.70H1088.94V190.30M1074.55 151.50V119.30H1086.44V141.70M1052.34 116.10V88.20H1080.49V119.30M1093.95 190.30V188.90H1098.95V190.30M1096.45 188.90V170.70H1103.96V190.30M1100.21 170.70V141.20H1108.97V190.30M1104.59 141.20V122.80H1113.97V190.30M1109.28 122.80V116.10H1118.98V190.30M1066.41 88.20V82.30H1114.13V116.10M1123.98 190.30V139.50H1128.99V190.30M1134.00 190.30V122.80H1139.00V190.30M1126.49 139.50V107.40H1136.50V122.80M1144.01 190.30V134.60H1149.01V190.30M1131.49 107.40V93.60H1146.51V134.60M1090.27 82.30V67.90H1139.00V93.60M1154.02 190.30V122.80H1159.03V190.30M1156.52 122.80V106.30H1164.03V190.30M1114.64 67.90V47.90H1160.28V106.30M972.00 52.50V36.30H1137.46V47.90M678.64 26.20V1.20H1054.73V36.30M866.69 1.20V0" fill="none" stroke="#000" stroke-width="1.3" stroke-linejoin="miter" stroke-linecap="butt"/>
<g font-size="11.7" fill="#000" stroke="#000" stroke-width="0.12" style="filter:grayscale(1)" text-anchor="end">
<text transform="translate(302.60,671.2) scale(0.82,1) rotate(-90)">TDr0700732</text>
<text transform="translate(312.62,671.2) scale(0.82,1) rotate(-90)">TDr0900220</text>
<text transform="translate(322.64,671.2) scale(0.82,1) rotate(-90)">TDr0900280</text>
<text transform="translate(332.66,671.2) scale(0.82,1) rotate(-90)">TDr0900114</text>
<text transform="translate(342.67,671.2) scale(0.82,1) rotate(-90)">TDr8700211</text>
<text transform="translate(352.69,671.2) scale(0.82,1) rotate(-90)">TDr3325A</text>
<text transform="translate(362.71,671.2) scale(0.82,1) rotate(-90)">TDr1798A</text>
<text transform="translate(372.73,671.2) scale(0.82,1) rotate(-90)">TDr0800896</text>
<text transform="translate(382.75,671.2) scale(0.82,1) rotate(-90)">TDr0800161</text>
<text transform="translate(392.77,671.2) scale(0.82,1) rotate(-90)">TDr0500589</text>
<text transform="translate(402.79,671.2) scale(0.82,1) rotate(-90)">TDrFaketsa</text>
<text transform="translate(412.80,671.2) scale(0.82,1) rotate(-90)">TDr0900131</text>
<text transform="translate(422.82,671.2) scale(0.82,1) rotate(-90)">TDr0800756</text>
<text transform="translate(432.84,671.2) scale(0.82,1) rotate(-90)">TDr8902677</text>
<text transform="translate(442.86,671.2) scale(0.82,1) rotate(-90)">TDr1958</text>
<text transform="translate(452.88,671.2) scale(0.82,1) rotate(-90)">TDr0900028</text>
<text transform="translate(462.90,671.2) scale(0.82,1) rotate(-90)">TDr4155A</text>
<text transform="translate(472.91,671.2) scale(0.82,1) rotate(-90)">TDr2965A</text>
<text transform="translate(482.93,671.2) scale(0.82,1) rotate(-90)">TDr9700632</text>
<text transform="translate(492.95,671.2) scale(0.82,1) rotate(-90)">TDrufenyi</text>
<text transform="translate(502.97,671.2) scale(0.82,1) rotate(-90)">TDr0000362</text>
<text transform="translate(512.99,671.2) scale(0.82,1) rotate(-90)">TDr1000459</text>
<text transform="translate(523.01,671.2) scale(0.82,1) rotate(-90)">TDr3592</text>
<text transform="translate(533.03,671.2) scale(0.82,1) rotate(-90)">TDr0800207</text>
<text transform="translate(543.04,671.2) scale(0.82,1) rotate(-90)">TDr2425B</text>
<text transform="translate(553.06,671.2) scale(0.82,1) rotate(-90)">TDr2435A</text>
<text transform="translate(563.08,671.2) scale(0.82,1) rotate(-90)">TDr0900216</text>
<text transform="translate(573.10,671.2) scale(0.82,1) rotate(-90)">TDr9902562</text>
<text transform="translate(583.12,671.2) scale(0.82,1) rotate(-90)">TDr2973A</text>
<text transform="translate(593.14,671.2) scale(0.82,1) rotate(-90)">TDr2042A</text>
<text transform="translate(603.15,671.2) scale(0.82,1) rotate(-90)">TDr2674A</text>
<text transform="translate(613.17,671.2) scale(0.82,1) rotate(-90)">TDr4180A</text>
<text transform="translate(623.19,671.2) scale(0.82,1) rotate(-90)">TDr1804A</text>
<text transform="translate(633.21,671.2) scale(0.82,1) rotate(-90)">TDrGbongi</text>
<text transform="translate(643.23,671.2) scale(0.82,1) rotate(-90)">TDr1825</text>
<text transform="translate(653.25,671.2) scale(0.82,1) rotate(-90)">TDr1100271</text>
<text transform="translate(663.27,671.2) scale(0.82,1) rotate(-90)">TDr0700157</text>
<text transform="translate(673.28,671.2) scale(0.82,1) rotate(-90)">TDr0900123</text>
<text transform="translate(683.30,671.2) scale(0.82,1) rotate(-90)">TDr2948A</text>
<text transform="translate(693.32,671.2) scale(0.82,1) rotate(-90)">TDr0800092</text>
<text transform="translate(703.34,671.2) scale(0.82,1) rotate(-90)">TDr8902665</text>
<text transform="translate(713.36,671.2) scale(0.82,1) rotate(-90)">TDr1489A</text>
<text transform="translate(723.38,671.2) scale(0.82,1) rotate(-90)">TDr9602433</text>
<text transform="translate(733.40,671.2) scale(0.82,1) rotate(-90)">TDr0900364</text>
<text transform="translate(743.41,671.2) scale(0.82,1) rotate(-90)">TDr1559</text>
<text transform="translate(753.43,671.2) scale(0.82,1) rotate(-90)">TDr2161C</text>
<text transform="translate(763.45,671.2) scale(0.82,1) rotate(-90)">TDr2110</text>
<text transform="translate(773.47,671.2) scale(0.82,1) rotate(-90)">TDr2015</text>
<text transform="translate(783.49,671.2) scale(0.82,1) rotate(-90)">TDr2028</text>
<text transform="translate(793.51,671.2) scale(0.82,1) rotate(-90)">TDr1899A</text>
<text transform="translate(803.52,671.2) scale(0.82,1) rotate(-90)">TDrLagos</text>
<text transform="translate(813.54,671.2) scale(0.82,1) rotate(-90)">TDr0801919</text>
<text transform="translate(823.56,671.2) scale(0.82,1) rotate(-90)">TDr3576A</text>
<text transform="translate(833.58,671.2) scale(0.82,1) rotate(-90)">TDr0900082</text>
<text transform="translate(843.60,671.2) scale(0.82,1) rotate(-90)">TDr0800001</text>
<text transform="translate(853.62,671.2) scale(0.82,1) rotate(-90)">TDr2210A</text>
<text transform="translate(863.64,671.2) scale(0.82,1) rotate(-90)">TDr2575A</text>
<text transform="translate(873.65,671.2) scale(0.82,1) rotate(-90)">TDr2770</text>
<text transform="translate(883.67,671.2) scale(0.82,1) rotate(-90)">TDr2968A</text>
<text transform="translate(893.69,671.2) scale(0.82,1) rotate(-90)">TDr0900108</text>
<text transform="translate(903.71,671.2) scale(0.82,1) rotate(-90)">TDr0900061</text>
<text transform="translate(913.73,671.2) scale(0.82,1) rotate(-90)">TDr0900023</text>
<text transform="translate(923.75,671.2) scale(0.82,1) rotate(-90)">TDr0900325</text>
<text transform="translate(933.77,671.2) scale(0.82,1) rotate(-90)">TDrHembakwase</text>
<text transform="translate(943.78,671.2) scale(0.82,1) rotate(-90)">TDr1000048</text>
<text transform="translate(953.80,671.2) scale(0.82,1) rotate(-90)">TDr0500046</text>
<text transform="translate(963.82,671.2) scale(0.82,1) rotate(-90)">TDr0900324</text>
<text transform="translate(973.84,671.2) scale(0.82,1) rotate(-90)">TDr2681</text>
<text transform="translate(983.86,671.2) scale(0.82,1) rotate(-90)">TDr0500632</text>
<text transform="translate(993.88,671.2) scale(0.82,1) rotate(-90)">TDr0800083</text>
<text transform="translate(1003.89,671.2) scale(0.82,1) rotate(-90)">TDr1000344</text>
<text transform="translate(1013.91,671.2) scale(0.82,1) rotate(-90)">TDr1628A</text>
<text transform="translate(1023.93,671.2) scale(0.82,1) rotate(-90)">TDr2432</text>
<text transform="translate(1033.95,671.2) scale(0.82,1) rotate(-90)">TDr2029A</text>
<text transform="translate(1043.97,671.2) scale(0.82,1) rotate(-90)">TDr0801464</text>
<text transform="translate(1053.99,671.2) scale(0.82,1) rotate(-90)">TDr0900055</text>
<text transform="translate(1064.01,671.2) scale(0.82,1) rotate(-90)">TDr0800122</text>
<text transform="translate(1074.02,671.2) scale(0.82,1) rotate(-90)">TDr3814</text>
<text transform="translate(1084.04,671.2) scale(0.82,1) rotate(-90)">TDr2577A</text>
<text transform="translate(1094.06,671.2) scale(0.82,1) rotate(-90)">TDr0900248</text>
<text transform="translate(1104.08,671.2) scale(0.82,1) rotate(-90)">TDr0500432</text>
<text transform="translate(1114.10,671.2) scale(0.82,1) rotate(-90)">TDrDanacha</text>
<text transform="translate(1124.12,671.2) scale(0.82,1) rotate(-90)">TDr0500389</text>
<text transform="translate(1134.14,671.2) scale(0.82,1) rotate(-90)">TDr0800108</text>
<text transform="translate(1144.15,671.2) scale(0.82,1) rotate(-90)">TDr0900043</text>
<text transform="translate(1154.17,671.2) scale(0.82,1) rotate(-90)">TDr2363</text>
<text transform="translate(1164.19,671.2) scale(0.82,1) rotate(-90)">TDr0900155</text>
</g>
<g font-size="12.3" fill="#000" stroke="#000" stroke-width="0.25" style="filter:grayscale(1)">
<text transform="translate(1181.0,224.19) scale(0.78,1)">yield</text>
<text transform="translate(1181.0,269.75) scale(0.78,1)">M2</text>
<text transform="translate(1181.0,315.32) scale(0.78,1)">M9</text>
<text transform="translate(1181.0,360.89) scale(0.78,1)">M7</text>
<text transform="translate(1181.0,406.46) scale(0.78,1)">M1</text>
<text transform="translate(1181.0,452.03) scale(0.78,1)">M12</text>
<text transform="translate(1181.0,497.60) scale(0.78,1)">M11</text>
<text transform="translate(1181.0,543.17) scale(0.78,1)">M4</text>
<text transform="translate(1181.0,588.75) scale(0.78,1)">M3</text>
<text transform="translate(1181.0,634.31) scale(0.78,1)">M10</text>
</g>
<rect x="0.80" y="25.0" width="20.10" height="92.2" fill="#FF0000"/>
<rect x="19.90" y="25.0" width="20.10" height="92.2" fill="#FF1700"/>
<rect x="39.00" y="25.0" width="20.10" height="92.2" fill="#FF2E00"/>
<rect x="58.10" y="25.0" width="20.10" height="92.2" fill="#FF4600"/>
<rect x="77.20" y="25.0" width="20.10" height="92.2" fill="#FF5D00"/>
<rect x="96.30" y="25.0" width="20.10" height="92.2" fill="#FF7400"/>
<rect x="115.40" y="25.0" width="20.10" height="92.2" fill="#FF8B00"/>
<rect x="134.50" y="25.0" width="20.10" height="92.2" fill="#FFA200"/>
<rect x="153.60" y="25.0" width="20.10" height="92.2" fill="#FFB900"/>
<rect x="172.70" y="25.0" width="20.10" height="92.2" fill="#FFD100"/>
<rect x="191.80" y="25.0" width="20.10" height="92.2" fill="#FFE800"/>
<rect x="210.90" y="25.0" width="20.10" height="92.2" fill="#FFFF00"/>
<rect x="230.00" y="25.0" width="20.10" height="92.2" fill="#FFFF2A"/>
<rect x="249.10" y="25.0" width="20.10" height="92.2" fill="#FFFF80"/>
<rect x="268.20" y="25.0" width="19.10" height="92.2" fill="#FFFFD5"/>
<rect x="0.80" y="25.0" width="286.50" height="92.2" fill="#fff" fill-opacity="0.07"/>
<rect x="0.50" y="25.0" width="286.80" height="92.2" fill="none" stroke="#000" stroke-opacity="0.6" stroke-width="0.9"/>
<path d="M0.5 117.2H287.7M34.40 117.2V125.7M89.20 117.2V125.7M144.00 117.2V125.7M198.80 117.2V125.7M253.60 117.2V125.7" stroke="#000" stroke-width="1.0" fill="none"/>
<g font-size="13.0" fill="#000" stroke="#000" stroke-width="0.25" style="filter:grayscale(1)" text-anchor="middle">
<text transform="translate(34.40,146.0) scale(0.82,1)">−2</text>
<text transform="translate(89.20,146.0) scale(0.82,1)">−1</text>
<text transform="translate(144.00,146.0) scale(0.82,1)">0</text>
<text transform="translate(198.80,146.0) scale(0.82,1)">1</text>
<text transform="translate(253.60,146.0) scale(0.82,1)">2</text>
<text font-size="13.3" transform="translate(144,167.0) scale(0.78,1)">Value</text>
</g>
<text transform="translate(144.0,15.1) scale(0.776,1)" font-size="16.6" font-weight="bold" text-anchor="middle" fill="#000" stroke="#000" stroke-width="0.3" style="filter:grayscale(1)">Color Key</text>
</svg>
</body></html>
